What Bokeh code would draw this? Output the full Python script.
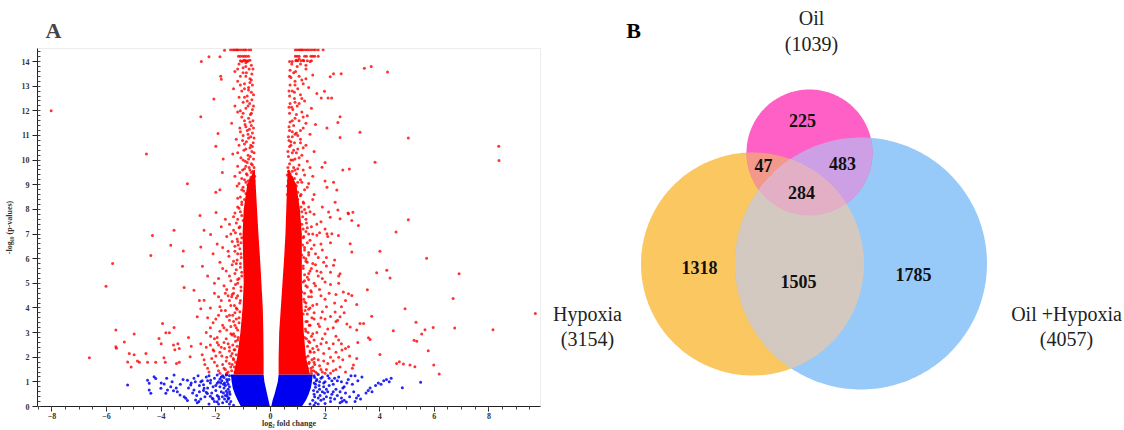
import math
from bokeh.plotting import figure
from bokeh.layouts import row
from bokeh.models import Range1d, FixedTicker
from bokeh.core.properties import value
from bokeh.embed import file_html
from bokeh.resources import INLINE

SERIF = "Liberation Serif"

# ---------------------------------------------------------------------------
# Panel A data: volcano plot (log2 fold change vs -log10 p-value)
# ---------------------------------------------------------------------------
# Saturated cores of the clouds: -log10 p level, outer and inner fold-change edge
blue_core_y = [0.0, 0.25, 0.5, 0.75, 1.0, 1.3]
blue_core_left_outer = [-1.08, -1.2, -1.3, -1.38, -1.42, -1.45]
blue_core_left_inner = [-0.02, -0.07, -0.12, -0.17, -0.22, -0.25]
blue_core_right_inner = [0.03, 0.08, 0.15, 0.21, 0.27, 0.3]
blue_core_right_outer = [1.15, 1.3, 1.4, 1.48, 1.52, 1.55]

red_core_y = [1.3, 2.0, 3.0, 4.0, 5.0, 6.0, 7.0, 8.0, 9.0, 9.6]
red_core_left_outer = [-1.35, -1.22, -1.1, -1.02, -0.98, -1.0, -1.02, -0.98, -0.85, -0.6]
red_core_left_inner = [-0.25, -0.25, -0.26, -0.28, -0.33, -0.38, -0.44, -0.49, -0.54, -0.57]
red_core_right_inner = [0.3, 0.3, 0.32, 0.38, 0.44, 0.5, 0.55, 0.58, 0.61, 0.63]
red_core_right_outer = [1.45, 1.3, 1.22, 1.18, 1.15, 1.15, 1.15, 1.08, 0.95, 0.68]

# Capped p-values (rows along the top of the plot)
red_capped = [
    (-1.68, 14.46), (-1.46, 14.48), (-1.38, 14.48), (-1.32, 14.48), (-1.27, 14.48), (-1.22, 14.48),
    (-1.18, 14.48), (-1.1, 14.48), (-1.02, 14.48), (-0.95, 14.48), (-0.9, 14.48), (-0.8, 14.48),
    (-0.72, 14.48), (0.91, 14.48), (0.98, 14.48), (1.05, 14.48), (1.1, 14.48), (1.15, 14.48),
    (1.2, 14.48), (1.28, 14.48), (1.35, 14.48), (1.42, 14.48), (1.5, 14.48), (1.58, 14.48),
    (1.65, 14.48), (1.75, 14.48), (1.93, 14.48),
    (-1.17, 14.22), (-1.1, 14.22), (-1.02, 14.22), (-0.95, 14.22), (-0.88, 14.22), (-0.8, 14.22),
    (0.91, 14.22), (0.98, 14.22), (1.05, 14.22), (1.25, 14.22), (1.32, 14.22), (1.48, 14.22),
    (1.55, 14.22), (1.62, 14.22), (1.75, 14.22),
    (-1.1, 14.03), (-1.0, 14.03), (-0.9, 14.03), (-0.82, 14.03),
    (0.93, 14.03), (1.0, 14.03), (1.12, 14.03), (1.22, 14.03), (1.35, 14.03), (1.5, 14.03),
]

# Down-regulated arm above the dense core
red_upper_left = [
    (-0.62, 8.6), (-0.75, 8.7), (-0.9, 8.65), (-1.05, 8.8), (-0.68, 8.9), (-0.83, 9.0), (-1.15, 9.05),
    (-0.6, 9.15), (-0.95, 9.2), (-0.72, 9.3), (-1.3, 9.35), (-0.88, 9.45), (-0.64, 9.55), (-1.02, 9.6),
    (-0.78, 9.7), (-1.2, 9.75), (-0.7, 9.85), (-0.92, 9.95), (-0.62, 10.05), (-1.08, 10.1), (-0.82, 10.2),
    (-1.38, 10.25), (-0.68, 10.35), (-0.97, 10.4), (-0.75, 10.5), (-1.15, 10.6), (-0.63, 10.7),
    (-0.88, 10.75), (-1.25, 10.85), (-0.72, 10.95), (-1.0, 11.0), (-0.66, 11.1), (-0.85, 11.2),
    (-1.12, 11.3), (-0.7, 11.4), (-0.93, 11.45), (-1.42, 11.5), (-0.64, 11.6), (-0.8, 11.7),
    (-1.05, 11.75), (-0.73, 11.85), (-1.2, 11.95), (-0.66, 12.05), (-0.9, 12.1), (-1.3, 12.2),
    (-0.76, 12.3), (-1.0, 12.35), (-0.68, 12.45), (-1.15, 12.55), (-0.85, 12.6), (-0.7, 12.75),
    (-1.05, 12.8), (-1.35, 12.9), (-0.8, 12.95), (-0.66, 13.05), (-0.95, 13.1), (-1.2, 13.2),
    (-0.75, 13.3), (-1.1, 13.4), (-0.68, 13.5), (-0.88, 13.55), (-1.3, 13.6), (-0.78, 13.7),
    (-1.0, 13.75), (-0.7, 13.85), (-1.15, 13.9), (-0.85, 14.0), (-0.95, 14.05), (-1.05, 14.0),
    (-0.75, 14.05), (-0.7, 8.55), (-0.98, 8.75), (-0.8, 8.85), (-1.22, 8.95), (-0.66, 9.1),
    (-1.05, 9.25), (-0.85, 9.4), (-0.7, 9.5), (-1.12, 9.5), (-0.95, 9.65), (-0.66, 9.8), (-0.85, 9.9),
    (-1.0, 10.0), (-0.74, 10.15), (-1.2, 10.3), (-0.9, 10.45), (-0.66, 10.55), (-1.02, 10.8),
    (-0.8, 10.9), (-1.1, 11.15), (-0.77, 11.25), (-0.95, 11.6), (-0.7, 11.9), (-1.1, 12.0),
    (-0.85, 12.4), (-0.95, 12.9), (-0.75, 13.15), (-1.0, 13.55), (-0.9, 13.95),
    (-0.6, 8.95), (-0.7, 9.05), (-0.82, 9.15), (-0.58, 9.35), (-0.75, 9.6), (-0.9, 9.75), (-0.6, 9.7),
    (-0.8, 10.05), (-0.6, 10.3), (-0.72, 10.6), (-0.95, 10.65), (-0.6, 10.9), (-0.82, 11.05),
    (-0.9, 11.35), (-0.62, 11.3), (-0.75, 11.55), (-1.0, 11.9), (-0.62, 12.2), (-0.82, 12.2),
    (-0.95, 12.55), (-0.62, 12.65), (-0.8, 12.85), (-1.1, 13.05), (-0.7, 13.25), (-0.9, 13.4),
    (-0.64, 13.7), (-0.9, 13.8), (-1.2, 13.7),
]

# Up-regulated arm above the dense core
red_upper_right = [
    (0.62, 8.6), (0.8, 8.65), (1.0, 8.7), (1.25, 8.8), (0.7, 8.9), (0.9, 9.0), (1.4, 9.05), (0.65, 9.15),
    (1.1, 9.2), (0.78, 9.3), (1.55, 9.35), (0.95, 9.45), (0.67, 9.55), (1.2, 9.6), (0.85, 9.7),
    (1.05, 9.8), (0.7, 9.85), (1.35, 9.95), (0.9, 10.05), (0.66, 10.15), (1.15, 10.2), (0.8, 10.3),
    (1.6, 10.35), (1.0, 10.45), (0.7, 10.55), (1.3, 10.6), (0.88, 10.7), (0.68, 10.8), (1.1, 10.85),
    (0.8, 10.95), (1.45, 11.05), (0.95, 11.1), (0.7, 11.2), (1.2, 11.3), (0.85, 11.4), (1.65, 11.45),
    (0.72, 11.55), (1.05, 11.6), (0.9, 11.7), (1.35, 11.8), (0.7, 11.9), (1.15, 11.95), (0.82, 12.05),
    (1.5, 12.1), (0.98, 12.2), (0.72, 12.3), (1.25, 12.4), (0.88, 12.5), (0.7, 12.6), (1.1, 12.65),
    (1.7, 12.7), (0.8, 12.8), (1.0, 12.9), (1.4, 12.95), (0.72, 13.05), (1.2, 13.1), (0.9, 13.2),
    (0.75, 13.35), (1.05, 13.4), (1.55, 13.45), (0.85, 13.55), (0.72, 13.65), (1.3, 13.7),
    (0.98, 13.8), (1.1, 13.9), (0.8, 14.0), (0.95, 14.05), (1.2, 14.05), (1.45, 14.0),
    (0.72, 8.55), (1.12, 8.6), (0.85, 8.8), (0.66, 9.0), (1.0, 9.1), (0.8, 9.2), (1.25, 9.4),
    (0.72, 9.45), (0.9, 9.6), (1.45, 9.7), (0.75, 10.0), (1.05, 10.1), (0.85, 10.4), (1.2, 10.5),
    (0.75, 10.75), (1.0, 11.0), (0.8, 11.15), (1.3, 11.5), (0.95, 11.85), (0.78, 12.15), (1.05, 12.3),
    (0.88, 12.75), (1.15, 13.25), (0.78, 13.9),
    (0.62, 8.95), (0.74, 9.1), (0.88, 9.25), (0.62, 9.4), (0.8, 9.55), (1.0, 9.65), (0.64, 9.7),
    (0.82, 10.0), (0.64, 10.35), (0.95, 10.3), (0.75, 10.6), (1.1, 10.7), (0.66, 10.95), (0.9, 11.05),
    (1.1, 11.2), (0.68, 11.35), (0.8, 11.6), (1.2, 11.75), (0.68, 12.15), (0.9, 12.35), (1.15, 12.5),
    (0.68, 12.8), (0.9, 13.05), (1.3, 13.3), (0.7, 13.4), (0.92, 13.6), (0.7, 14.0), (1.05, 14.1),
    (1.3, 13.85),
]

# Significant genes around the dense cores
red_halo_left = [
    (-1.05, 8.3), (-1.2, 8.1), (-1.1, 7.9), (-1.35, 7.7), (-1.0, 7.55), (-1.5, 7.4), (-1.15, 7.25),
    (-1.28, 7.05), (-1.6, 6.9), (-1.05, 6.85), (-1.4, 6.7), (-1.18, 6.55), (-1.75, 6.45), (-1.3, 6.3),
    (-1.08, 6.2), (-1.52, 6.1), (-1.22, 5.95), (-1.85, 5.85), (-1.4, 5.75), (-1.1, 5.65), (-1.62, 5.5),
    (-1.3, 5.4), (-1.05, 5.3), (-1.9, 5.2), (-1.45, 5.1), (-1.2, 5.0), (-1.7, 4.9), (-1.35, 4.8),
    (-1.08, 4.7), (-2.05, 4.6), (-1.55, 4.5), (-1.25, 4.4), (-1.8, 4.3), (-1.12, 4.2), (-1.45, 4.1),
    (-2.2, 4.0), (-1.65, 3.9), (-1.3, 3.8), (-1.9, 3.7), (-1.15, 3.6), (-1.5, 3.5), (-2.1, 3.4),
    (-1.75, 3.3), (-1.25, 3.2), (-1.6, 3.1), (-2.35, 3.0), (-1.4, 2.9), (-1.95, 2.8), (-1.2, 2.7),
    (-1.7, 2.6), (-2.2, 2.5), (-1.5, 2.4), (-1.3, 2.3), (-1.85, 2.2), (-2.5, 2.1), (-1.6, 2.0),
    (-1.35, 1.9), (-2.05, 1.8), (-1.75, 1.7), (-1.45, 1.6), (-2.3, 1.55), (-1.9, 1.45), (-1.3, 1.4),
    (-1.6, 1.35), (-1.25, 1.5), (-1.5, 1.75), (-1.4, 2.15), (-1.55, 2.55), (-1.3, 2.85), (-1.45, 3.25),
    (-1.8, 2.4), (-2.0, 2.05), (-1.65, 1.5), (-1.95, 2.6), (-2.15, 1.95), (-1.85, 3.05), (-1.35, 3.45),
    (-1.6, 3.65), (-2.0, 3.55), (-1.25, 4.0), (-1.5, 4.3), (-1.9, 4.45), (-1.35, 4.6), (-1.6, 4.75),
    (-1.2, 5.15), (-1.5, 5.3), (-1.75, 5.6), (-1.25, 5.8), (-1.55, 6.3), (-1.2, 6.7), (-1.45, 7.0),
    (-1.25, 7.45), (-1.65, 7.6), (-1.1, 8.5), (-1.95, 6.6), (-2.1, 6.2), (-1.8, 7.3), (-2.3, 5.3),
    (-2.05, 5.0), (-2.6, 4.3),
    (-1.42, 1.45), (-1.32, 1.6), (-1.4, 1.7), (-1.28, 1.8), (-1.36, 1.95), (-1.45, 2.05),
    (-1.25, 2.1), (-1.33, 2.3), (-1.22, 2.45), (-1.38, 2.5), (-1.28, 2.65), (-1.18, 2.8), (-1.35, 2.95),
    (-1.2, 3.1), (-1.3, 3.3), (-1.15, 3.4), (-1.25, 3.55), (-1.38, 3.7), (-1.12, 3.85), (-1.22, 3.95),
    (-1.32, 4.1), (-1.1, 4.3), (-1.2, 4.5), (-1.4, 4.55), (-1.08, 4.85), (-1.28, 4.95), (-1.15, 5.2),
    (-1.05, 5.45), (-1.25, 5.55), (-1.1, 5.8), (-1.35, 5.9), (-1.07, 6.05), (-1.2, 6.2), (-1.12, 6.4),
    (-1.3, 6.5), (-1.08, 6.65), (-1.22, 6.8), (-1.1, 7.0), (-1.35, 7.15), (-1.12, 7.3), (-1.2, 7.6),
    (-1.05, 7.75), (-1.3, 7.85), (-1.15, 8.05), (-1.05, 8.2), (-0.95, 8.4), (-1.2, 8.45),
    (-0.85, 8.6), (-1.0, 8.9), (-0.9, 9.1), (-0.75, 9.2),
    (-1.55, 1.4), (-1.7, 1.55), (-1.85, 1.35), (-1.95, 1.65), (-1.62, 1.85), (-1.78, 2.05),
    (-1.5, 2.25), (-1.68, 2.35), (-1.9, 2.5), (-1.62, 2.75), (-1.45, 2.95), (-1.7, 3.2), (-1.5, 3.7),
    (-1.8, 3.9), (-1.42, 4.45), (-1.65, 4.6), (-2.25, 1.4), (-2.4, 1.7), (-2.1, 2.3), (-2.35, 2.4),
    (-2.05, 2.75), (-2.2, 3.2), (-1.85, 4.05), (-2.3, 3.6),
]

red_halo_right = [
    (1.2, 8.3), (1.4, 8.1), (1.15, 7.9), (1.6, 7.8), (1.3, 7.6), (1.85, 7.5), (1.15, 7.4), (1.5, 7.3),
    (2.0, 7.2), (1.3, 7.1), (1.7, 6.95), (1.2, 6.85), (1.45, 6.75), (2.2, 6.65), (1.6, 6.55),
    (1.25, 6.45), (1.9, 6.35), (1.4, 6.25), (1.15, 6.15), (1.75, 6.05), (2.35, 5.95), (1.3, 5.9),
    (1.55, 5.8), (2.05, 5.7), (1.2, 5.6), (1.7, 5.5), (1.4, 5.4), (2.5, 5.3), (1.9, 5.2), (1.25, 5.1),
    (1.6, 5.0), (2.2, 4.95), (1.35, 4.85), (1.8, 4.75), (1.15, 4.65), (2.4, 4.55), (1.5, 4.45),
    (2.0, 4.35), (1.25, 4.25), (1.7, 4.15), (2.6, 4.05), (1.4, 3.95), (1.9, 3.85), (1.2, 3.75),
    (2.2, 3.65), (1.6, 3.55), (1.35, 3.45), (2.8, 3.35), (1.8, 3.25), (2.1, 3.15), (1.3, 3.05),
    (1.55, 2.95), (2.4, 2.85), (1.9, 2.75), (1.4, 2.65), (2.6, 2.55), (1.7, 2.45), (2.15, 2.35),
    (1.45, 2.25), (1.95, 2.15), (2.9, 2.05), (1.6, 1.95), (2.3, 1.85), (1.4, 1.75), (1.8, 1.65),
    (2.55, 1.6), (2.05, 1.5), (1.5, 1.45), (2.75, 1.4), (1.7, 1.35), (2.2, 1.35), (1.25, 8.0),
    (1.55, 8.4), (1.35, 7.25), (1.8, 7.05), (1.5, 6.4), (1.3, 6.0), (1.65, 5.75), (1.85, 5.45),
    (1.35, 5.25), (1.5, 4.65), (2.15, 4.6), (1.3, 4.05), (1.6, 3.8), (2.0, 3.55), (1.45, 3.3),
    (2.3, 3.2), (1.7, 3.0), (1.25, 2.8), (2.05, 2.6), (1.6, 2.2), (2.4, 2.2), (1.3, 2.0), (1.75, 1.9),
    (2.1, 1.75), (1.55, 1.6), (2.4, 1.5), (1.9, 1.4), (1.35, 1.55), (2.65, 1.9), (3.0, 1.55),
    (2.5, 2.7), (2.75, 2.35), (3.2, 2.6), (2.35, 4.2), (2.7, 3.8), (2.5, 5.0), (2.75, 4.3),
    (1.5, 1.35), (1.58, 1.45), (1.48, 1.55), (1.62, 1.7), (1.42, 1.8), (1.52, 1.9), (1.38, 2.05),
    (1.46, 2.2), (1.55, 2.35), (1.36, 2.45), (1.44, 2.6), (1.32, 2.75), (1.5, 2.85), (1.38, 3.0),
    (1.28, 3.15), (1.42, 3.3), (1.3, 3.45), (1.52, 3.6), (1.35, 3.75), (1.27, 3.9), (1.45, 4.0),
    (1.3, 4.2), (1.22, 4.35), (1.4, 4.45), (1.25, 4.6), (1.48, 4.7), (1.3, 4.9), (1.2, 5.05),
    (1.4, 5.15), (1.25, 5.35), (1.45, 5.5), (1.2, 5.7), (1.35, 5.85), (1.22, 6.05), (1.4, 6.15),
    (1.25, 6.35), (1.18, 6.55), (1.35, 6.65), (1.22, 6.9), (1.4, 7.0), (1.2, 7.2), (1.32, 7.45),
    (1.18, 7.7), (1.3, 7.85), (1.12, 8.1), (1.22, 8.25), (1.0, 8.4), (0.85, 8.5), (1.1, 8.55),
    (0.95, 8.95), (1.15, 9.1), (0.78, 9.05),
    (1.65, 1.4), (1.85, 1.5), (2.0, 1.35), (2.3, 1.45), (1.6, 1.8), (1.95, 1.85), (2.2, 2.0),
    (1.75, 2.3), (2.5, 2.0), (1.85, 2.55), (2.3, 2.55), (1.6, 2.7), (2.0, 2.95), (1.75, 3.35),
    (2.4, 3.45), (1.85, 3.6), (1.55, 4.1), (2.05, 4.05), (1.85, 4.5), (1.65, 4.9), (2.0, 5.05),
    (1.75, 5.3), (1.5, 5.6), (2.2, 5.45), (1.95, 5.85), (1.65, 6.2), (2.05, 6.05), (1.85, 6.6),
    (1.55, 7.0), (2.1, 6.9), (1.7, 7.4), (1.45, 7.9), (1.9, 8.1), (1.6, 8.6), (1.35, 8.9),
]

# Isolated significant genes with large fold changes
red_far_left = [
    (-8.03, 12.0), (-4.54, 10.25), (-3.04, 9.04), (-2.55, 11.76), (-2.53, 14.0), (-2.25, 14.2),
    (-1.85, 14.2), (-2.07, 12.48), (-1.82, 13.4), (-1.8, 13.28), (-1.92, 11.08), (-2.0, 10.56),
    (-1.73, 10.05), (-1.76, 9.5), (-2.0, 8.7), (-1.85, 8.8), (-2.58, 7.75), (-1.99, 7.87),
    (-3.53, 7.15), (-4.32, 6.94), (-3.65, 6.54), (-2.43, 7.15), (-2.19, 6.98), (-2.55, 6.47),
    (-3.19, 6.31), (-4.38, 6.13), (-5.78, 5.8), (-3.22, 5.69), (-2.49, 5.69), (-6.02, 4.88),
    (-3.16, 4.83), (-2.8, 4.72), (-2.43, 4.31), (-2.55, 3.97), (-2.68, 3.64), (-3.95, 3.37),
    (-3.53, 3.21), (-3.83, 2.99), (-3.7, 2.99), (-5.66, 3.1), (-5.66, 2.42), (-5.64, 2.36),
    (-4.99, 2.94), (-5.35, 2.62), (-5.17, 2.15), (-4.99, 2.1), (-4.87, 1.85), (-4.8, 1.8),
    (-5.23, 1.81), (-5.1, 1.6), (-6.63, 1.98), (-4.56, 2.15), (-4.5, 1.8), (-4.2, 1.8), (-4.08, 2.76),
    (-4.0, 2.55), (-3.55, 2.5), (-3.5, 2.3), (-3.39, 2.55), (-3.34, 2.35), (-3.9, 1.98), (-3.85, 1.8),
    (-3.44, 1.75), (-3.34, 1.8), (-2.94, 2.02), (-3.0, 2.8), (-2.9, 2.45), (-2.55, 2.55), (-2.43, 1.9),
    (-2.19, 2.85), (-2.07, 2.25),
]

red_far_right = [
    (3.44, 13.73), (3.69, 13.8), (4.29, 13.58), (2.19, 13.38), (2.31, 13.51), (2.59, 13.51),
    (1.98, 12.79), (1.86, 12.52), (2.11, 12.52), (2.24, 12.52), (2.55, 11.76), (2.47, 11.53),
    (2.07, 11.3), (3.28, 11.13), (2.55, 10.92), (5.05, 10.9), (8.36, 10.56), (8.37, 9.98),
    (3.83, 9.91), (2.65, 9.6), (2.89, 9.64), (2.0, 9.9), (1.89, 9.71), (2.31, 9.1), (2.43, 8.79),
    (2.37, 8.29), (2.47, 7.98), (2.13, 7.89), (2.84, 7.85), (3.02, 7.88), (5.05, 7.58), (4.6, 7.08),
    (4.01, 6.3), (5.72, 6.02), (6.91, 5.39), (3.89, 5.43), (4.26, 5.53), (4.38, 5.22), (3.55, 4.74),
    (6.69, 4.38), (4.93, 3.97), (9.7, 3.77), (3.71, 3.66), (3.28, 3.37), (3.41, 3.37), (5.33, 3.42),
    (5.66, 3.12), (5.96, 3.21), (6.75, 3.19), (8.15, 3.12), (4.5, 3.07), (5.54, 2.94), (3.59, 2.79),
    (3.65, 2.72), (5.26, 2.69), (5.36, 2.65), (5.78, 2.26), (4.01, 2.11), (4.62, 1.75), (4.72, 1.82),
    (4.87, 1.72), (5.11, 1.68), (5.29, 1.61), (5.98, 1.68), (6.18, 1.32), (2.62, 2.29), (2.86, 2.42),
    (3.04, 1.68), (3.16, 1.95), (2.98, 7.55), (3.22, 7.35), (2.86, 7.82), (2.19, 7.68), (2.55, 7.62),
    (2.07, 7.01), (2.25, 7.01), (2.49, 6.94), (2.92, 6.61), (2.98, 6.27), (2.31, 5.73), (2.55, 5.39),
    (2.67, 4.65), (2.86, 4.58), (2.98, 4.51), (3.16, 4.14), (2.37, 3.84), (2.55, 3.64), (2.46, 3.5),
    (2.92, 3.23), (3.16, 3.1), (2.0, 9.15), (2.07, 8.9),
]

# Non-significant genes outside the dense cores
blue_left = [
    (-1.5, 1.25), (-1.6, 1.1), (-1.55, 0.9), (-1.7, 0.75), (-1.5, 0.6), (-1.65, 0.45), (-1.55, 0.3),
    (-1.75, 0.15), (-1.8, 1.2), (-1.9, 1.0), (-1.85, 0.8), (-2.0, 0.65), (-1.95, 0.45), (-2.1, 0.3),
    (-2.05, 1.15), (-2.2, 0.95), (-2.3, 0.75), (-2.15, 0.55), (-2.4, 0.4), (-2.35, 1.2), (-2.5, 1.05),
    (-2.6, 0.85), (-2.45, 0.65), (-2.7, 0.45), (-2.8, 1.15), (-2.9, 0.95), (-3.0, 0.75), (-3.2, 1.1),
    (-3.3, 0.9), (-3.45, 0.75), (-3.6, 1.0), (-3.8, 1.15), (-4.0, 0.95), (-1.62, 1.28), (-1.72, 0.55),
    (-1.6, 0.2), (-1.88, 0.3), (-1.68, 0.95), (-2.25, 1.25), (-2.55, 0.3), (-2.65, 1.25), (-2.1, 0.8),
    (-1.78, 1.05), (-5.23, 0.87), (-4.5, 1.07), (-4.44, 0.94), (-4.44, 0.67), (-4.38, 0.54),
    (-4.26, 1.21), (-4.2, 1.14), (-4.01, 0.74), (-3.89, 0.91), (-3.65, 0.8), (-3.55, 0.64),
    (-3.41, 0.6), (-3.31, 0.47), (-3.16, 0.4), (-3.1, 0.33), (-3.04, 0.24), (-3.53, 1.28),
    (-3.77, 0.67), (-3.83, 0.54), (-2.74, 0.26), (-2.68, 0.15), (-2.62, 0.2), (-3.04, 1.07),
    (-2.92, 0.87), (-2.8, 0.67), (-2.55, 1.0), (-2.43, 0.74), (-2.31, 0.53), (-2.19, 1.07),
    (-1.95, 0.94), (-2.13, 0.33), (-1.95, 0.19), (-1.76, 0.4), (-1.58, 0.53),
    (-1.5, 0.1), (-1.45, 0.2), (-1.35, 0.05), (-1.52, 0.35), (-1.58, 0.42), (-1.48, 0.5),
    (-1.62, 0.62), (-1.55, 0.7), (-1.5, 0.8), (-1.65, 0.85), (-1.58, 1.0), (-1.52, 1.1), (-1.7, 1.18),
    (-1.6, 1.3), (-1.75, 1.25), (-1.85, 1.12), (-1.72, 0.9), (-1.8, 0.6), (-1.68, 0.3), (-1.9, 0.4),
    (-1.82, 0.95), (-1.95, 1.28), (-2.0, 0.85), (-2.05, 0.2), (-1.9, 0.1), (-2.25, 0.1), (-2.3, 1.05),
    (-2.45, 0.88), (-2.2, 0.42), (-2.35, 0.58), (-2.6, 0.6), (-2.75, 1.0), (-2.85, 0.55),
]

blue_right = [
    (1.6, 1.25), (1.7, 1.1), (1.65, 0.9), (1.8, 0.7), (1.6, 0.5), (1.75, 0.35), (1.65, 0.15),
    (1.9, 1.2), (2.0, 1.0), (1.95, 0.8), (2.1, 0.6), (2.05, 0.4), (2.2, 0.2), (2.15, 1.15), (2.3, 0.9),
    (2.4, 0.7), (2.25, 0.5), (2.5, 1.2), (2.6, 1.0), (2.7, 0.8), (2.55, 0.6), (2.85, 1.1), (3.0, 0.9),
    (2.95, 1.25), (3.2, 1.05), (3.35, 1.2), (1.72, 0.6), (1.85, 0.25), (1.98, 0.55), (2.35, 0.3),
    (2.45, 1.05), (1.8, 1.0), (2.15, 0.85), (2.55, 0.15), (2.62, 0.2), (2.7, 0.25), (2.78, 0.18),
    (3.1, 0.2), (3.15, 0.35), (3.22, 0.45), (3.3, 0.3), (3.5, 0.55), (3.58, 0.65), (3.65, 0.75),
    (3.72, 0.6), (3.85, 0.85), (3.95, 0.95), (4.05, 0.9), (4.15, 1.05), (4.25, 1.1), (4.35, 1.0),
    (4.42, 1.15), (4.83, 0.76), (5.5, 0.98),
    (1.6, 0.05), (1.45, 0.1), (1.55, 0.25), (1.62, 0.4), (1.58, 0.65), (1.65, 0.78), (1.6, 0.95),
    (1.68, 1.05), (1.62, 1.18), (1.75, 1.3), (1.85, 1.15), (1.78, 0.85), (1.9, 0.6), (1.82, 0.45),
    (1.95, 0.3), (1.75, 0.1), (2.0, 0.12), (2.05, 0.7), (2.1, 1.25), (2.25, 1.05), (2.3, 0.6),
    (2.45, 0.45), (2.2, 0.35), (2.6, 0.35), (2.65, 0.75), (2.8, 0.95), (2.75, 0.55), (2.9, 0.4),
    (3.05, 0.6), (1.95, 0.95), (2.35, 1.15), (3.1, 1.25),
]

x_ticks = [-8, -6, -4, -2, 0, 2, 4, 6, 8]
y_ticks = list(range(0, 15))

# ---------------------------------------------------------------------------
# Panel B data: Venn diagram of differentially expressed genes
# ---------------------------------------------------------------------------
set_names = ["Oil", "Hypoxia", "Oil +Hypoxia"]
# region membership flags (Oil, Hypoxia, Oil +Hypoxia) and gene counts
region_members = [(1, 0, 0), (0, 1, 0), (0, 0, 1), (1, 1, 0), (1, 0, 1), (0, 1, 1), (1, 1, 1)]
region_counts = [225, 1318, 1785, 47, 483, 1505, 284]
set_totals = [sum(c for m, c in zip(region_members, region_counts) if m[i]) for i in range(3)]


def xs_ys(points):
    return [p[0] for p in points], [p[1] for p in points]


# ---------------------------------------------------------------------------
# Panel A figure
# ---------------------------------------------------------------------------
RED = "#FF0000"
BLUE = "#0000F0"

pa = figure(width=550, height=430, output_backend="svg", toolbar_location=None,
            x_range=Range1d(-8.53, 9.89), y_range=Range1d(0, 14.53),
            min_border_left=37, min_border_right=10, min_border_top=48, min_border_bottom=23)
pa.frame_align = False
pa.xgrid.visible = False
pa.ygrid.visible = False
pa.outline_line_color = "#EDEDED"

pa.title.text = "A"
pa.title.text_font = SERIF
pa.title.text_font_style = "bold"
pa.title.text_font_size = "22px"
pa.title.align = "left"
pa.title.offset = 8
pa.title.standoff = 12

pa.harea(x1=blue_core_left_outer, x2=blue_core_left_inner, y=blue_core_y, fill_color=BLUE)
pa.harea(x1=blue_core_right_inner, x2=blue_core_right_outer, y=blue_core_y, fill_color=BLUE)
pa.harea(x1=red_core_left_outer, x2=red_core_left_inner, y=red_core_y, fill_color=RED)
pa.harea(x1=red_core_right_inner, x2=red_core_right_outer, y=red_core_y, fill_color=RED)

bx, by = xs_ys(blue_left + blue_right)
pa.scatter(bx, by, size=3, marker="circle", fill_color=BLUE, line_color=None, fill_alpha=0.85)

red_pts = red_capped + red_upper_left + red_upper_right + red_halo_left + red_halo_right + red_far_left + red_far_right
rx, ry = xs_ys(red_pts)
pa.scatter(rx, ry, size=3, marker="circle", fill_color=RED, line_color=None, fill_alpha=0.8)

pa.xaxis.ticker = FixedTicker(ticks=x_ticks, minor_ticks=[k * 0.5 for k in range(-17, 20)])
pa.yaxis.ticker = FixedTicker(ticks=y_ticks, minor_ticks=[k * 0.2 for k in range(0, 73)])
for ax in (pa.xaxis[0], pa.yaxis[0]):
    ax.axis_line_color = "#222222"
    ax.major_tick_line_color = "#222222"
    ax.minor_tick_line_color = "#444444"
    ax.major_label_text_font = SERIF
    ax.major_label_text_font_style = "bold"
    ax.major_label_text_font_size = "8px"
    ax.major_label_text_color = "#333333"
    ax.axis_label_text_font = SERIF
    ax.axis_label_text_font_style = "bold"
    ax.axis_label_text_font_size = "8px"
    ax.axis_label_text_color = "#333333"
    ax.major_tick_in = 0
    ax.major_tick_out = 5
pa.xaxis.axis_label = "log\u2082 fold change"
pa.xaxis.minor_tick_in = 0
pa.xaxis.minor_tick_out = 3
pa.xaxis.major_label_standoff = 1
pa.xaxis.axis_label_standoff = -3
pa.yaxis.axis_label = "-log\u2081\u2080 (p-values)"
pa.yaxis.minor_tick_in = 3
pa.yaxis.minor_tick_out = 0
pa.yaxis.major_label_standoff = 3
pa.yaxis.axis_label_standoff = 5

# ---------------------------------------------------------------------------
# Panel B figure: Venn diagram (canvas units, y grows downwards)
# ---------------------------------------------------------------------------
VENN_CIRCLES = [(809, 152, 63), (752, 263.5, 111.5), (860.5, 263, 126)]  # cx, cy, r per set
SET_COLORS = ["#FE60C6", "#FAC760", "#97C9F9"]
PAIR_COLORS = {(0, 1): "#F4988C", (0, 2): "#CDA0E6", (1, 2): "#D3C9C0"}
TRIPLE_COLOR = "#E3AFC4"
REGION_LABEL_POS = [(802, 120), (699, 267), (913, 274), (763, 165), (842, 163), (798, 281), (801, 192)]
SET_LABEL_POS = [(811, 17, 43), (587, 313, 338), (1066, 313, 338)]


def circle_pts(cx, cy, r, n=240):
    return [(cx + r * math.cos(2 * math.pi * k / n), cy + r * math.sin(2 * math.pi * k / n)) for k in range(n)]


def clip_poly(subject, clipper):
    """Sutherland-Hodgman clipping of a polygon by a convex polygon."""
    out = list(subject)
    m = len(clipper)
    for i in range(m):
        if not out:
            break
        a, b = clipper[i], clipper[(i + 1) % m]

        def inside(p):
            return (b[0] - a[0]) * (p[1] - a[1]) - (b[1] - a[1]) * (p[0] - a[0]) >= 0

        def cross_pt(p, q):
            x1, y1 = p
            x2, y2 = q
            x3, y3 = a
            x4, y4 = b
            den = (x1 - x2) * (y3 - y4) - (y1 - y2) * (x3 - x4)
            t = ((x1 - x3) * (y3 - y4) - (y1 - y3) * (x3 - x4)) / den
            return (x1 + t * (x2 - x1), y1 + t * (y2 - y1))

        inp, out = out, []
        s = inp[-1]
        for e in inp:
            if inside(e):
                if not inside(s):
                    out.append(cross_pt(s, e))
                out.append(e)
            elif inside(s):
                out.append(cross_pt(s, e))
            s = e
    return out


pb = figure(width=574, height=430, output_backend="svg", toolbar_location=None,
            x_range=Range1d(550, 1124), y_range=Range1d(430, 0), min_border=0)
pb.frame_align = False
pb.axis.visible = False
pb.xgrid.visible = False
pb.ygrid.visible = False
pb.outline_line_color = None

polys = [circle_pts(*c) for c in VENN_CIRCLES]
for i in (1, 2, 0):
    px, py = xs_ys(polys[i])
    pb.patch(px, py, fill_color=SET_COLORS[i], line_color=None)
for (i, j), col in PAIR_COLORS.items():
    px, py = xs_ys(clip_poly(polys[i], polys[j]))
    pb.patch(px, py, fill_color=col, line_color=None)
px, py = xs_ys(clip_poly(clip_poly(polys[0], polys[1]), polys[2]))
pb.patch(px, py, fill_color=TRIPLE_COLOR, line_color=None)

pb.text(x=[p[0] for p in REGION_LABEL_POS], y=[p[1] for p in REGION_LABEL_POS],
        text=[str(c) for c in region_counts], text_font=value(SERIF), text_font_style="bold",
        text_font_size="18px", text_align="center", text_baseline="middle", text_color="#111111")
pb.text(x=[p[0] for p in SET_LABEL_POS], y=[p[1] for p in SET_LABEL_POS], text=set_names,
        text_font=value(SERIF), text_font_size="20px", text_align="center",
        text_baseline="middle", text_color="#222222")
pb.text(x=[p[0] for p in SET_LABEL_POS], y=[p[2] for p in SET_LABEL_POS],
        text=["(%d)" % t for t in set_totals], text_font=value(SERIF), text_font_size="20px",
        text_align="center", text_baseline="middle", text_color="#222222")
pb.text(x=[633], y=[29.5], text=["B"], text_font=value(SERIF), text_font_style="bold",
        text_font_size="22px", text_align="center", text_baseline="middle", text_color="black")

layout = row(pa, pb)
open("out.html", "w").write(file_html(layout, INLINE))
